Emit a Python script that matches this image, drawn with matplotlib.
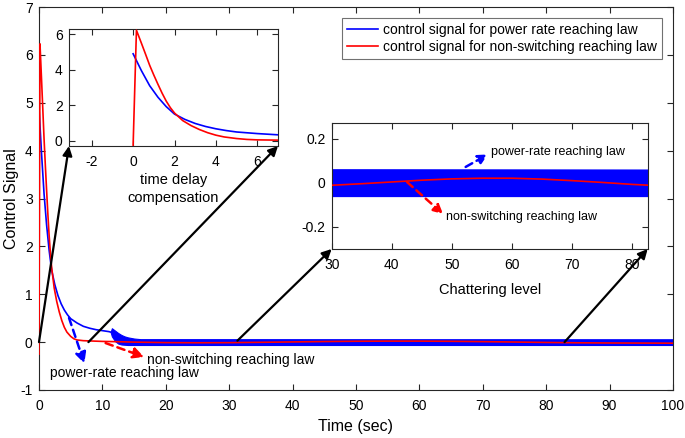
import matplotlib
matplotlib.use("Agg")
import matplotlib.pyplot as plt

plt.rcParams['font.family'] = ['Liberation Sans', 'DejaVu Sans']
plt.rcParams['axes.unicode_minus'] = False

# blue: power rate reaching law (smooth part, before chattering starts)
t_blue = [0, 0.4, 0.8, 1.2, 1.6, 2.0, 2.5, 3.0, 3.5, 4.0, 4.5, 5.0, 6.0, 7.0, 8, 9, 10, 11, 11.3]
u_blue = [4.9, 3.95, 3.1, 2.45, 1.92, 1.5, 1.2, 0.97, 0.8, 0.67, 0.57, 0.49, 0.4, 0.33,
          0.29, 0.26, 0.24, 0.22, 0.21]

# blue chattering band envelope
t_band = [11.3, 11.5, 12, 12.5, 13, 13.5, 14, 15, 16, 100]
band_hi = [0.21, 0.29, 0.24, 0.19, 0.15, 0.12, 0.10, 0.075, 0.062, 0.06]
band_lo = [0.21, 0.12, 0.02, -0.03, -0.05, -0.055, -0.06, -0.06, -0.06, -0.06]

# red: non-switching reaching law
t_red = [0, 0.16, 0.4, 0.6, 0.8, 1.0, 1.2, 1.4, 1.6, 1.8, 2.0, 2.4, 2.8, 3.2, 3.6, 4.0,
         4.4, 5.0, 5.5, 6, 7, 8, 10, 12, 15, 20, 25, 30, 35, 40, 45, 50, 55, 60, 65,
         70, 75, 80, 85, 90, 100]
u_red = [-0.25, 6.23, 5.5, 4.88, 4.25, 3.7, 3.18, 2.68, 2.23, 1.86, 1.56, 1.13, 0.85,
         0.63, 0.45, 0.31, 0.21, 0.12, 0.07, 0.045, 0.03, 0.025, 0.015, 0.01, 0.0,
         -0.01, -0.013, -0.011, -0.004, 0.004, 0.012, 0.018, 0.021, 0.021, 0.017,
         0.01, 0.002, -0.007, -0.014, -0.018, -0.022]

fig = plt.figure(figsize=(6.85, 4.38), dpi=100)
ax = fig.add_axes([0.0569, 0.1096, 0.9255, 0.8744])


def draw_signals(a):
    a.plot(t_blue, u_blue, color='b', lw=1.2, zorder=2)
    a.fill_between(t_band, band_lo, band_hi, color='b', lw=0.8, zorder=2)
    a.plot(t_red, u_red, color='r', lw=1.2, zorder=3)


def style(a):
    a.tick_params(direction='in', top=True, right=True, labelsize=10, length=4, colors='0.15')
    a.tick_params(axis='x', pad=6.5)
    a.tick_params(axis='y', pad=4.5)
    for s in a.spines.values():
        s.set_color('0.15')
        s.set_linewidth(0.8)
    for lab in a.get_xticklabels() + a.get_yticklabels():
        lab.set_color('k')


draw_signals(ax)
ax.plot([], [], color='b', lw=1.2, label='control signal for power rate reaching law')
ax.plot([], [], color='r', lw=1.2, label='control signal for non-switching reaching law')
ax.set_xlim(0, 100)
ax.set_ylim(-1, 7)
ax.set_xticks(range(0, 101, 10))
ax.set_yticks(range(-1, 8))
style(ax)
ax.set_xlabel('Time (sec)', fontsize=11.5, labelpad=4)
ax.set_ylabel('Control Signal', fontsize=11.5, labelpad=1)

leg = fig.legend(loc='upper right', bbox_to_anchor=(0.9664, 0.9589), fontsize=10,
                 frameon=True, fancybox=False, edgecolor='0.3', handlelength=2.2,
                 borderaxespad=0, labelspacing=0.25, borderpad=0.35, handletextpad=0.4)
leg.get_frame().set_linewidth(0.8)

# dashed pointers in main axes
ax.annotate('', xy=(7.3, -0.5), xytext=(4.6, 0.56),
            arrowprops=dict(arrowstyle='-|>', color='b', lw=1.8, ls=(0, (3, 2)), mutation_scale=16))
ax.text(1.8, -0.64, 'power-rate reaching law', fontsize=10, va='center', ha='left')
ax.annotate('', xy=(17, -0.33), xytext=(10.1, 0.0),
            arrowprops=dict(arrowstyle='-|>', color='r', lw=1.8, ls=(0, (3, 2)), mutation_scale=16))
ax.text(17, -0.37, 'non-switching reaching law', fontsize=10, va='center', ha='left')

# inset: time delay compensation
ins1 = fig.add_axes([0.1007, 0.6667, 0.3051, 0.2671])
draw_signals(ins1)
ins1.set_xlim(-3.1, 7)
ins1.set_ylim(-0.3, 6.3)
ins1.set_xticks([-2, 0, 2, 4, 6])
ins1.set_yticks([0, 2, 4, 6])
style(ins1)
ins1.set_xlabel('time delay\ncompensation', fontsize=10.5, labelpad=3, linespacing=1.35)

# inset: chattering level
ins2 = fig.add_axes([0.4842, 0.4315, 0.4613, 0.287])
draw_signals(ins2)
ins2.set_xlim(30, 82.6)
ins2.set_ylim(-0.3, 0.27)
ins2.set_xticks(range(30, 81, 10))
ins2.set_yticks([-0.2, 0, 0.2])
ins2.set_yticklabels(['-0.2', '0', '0.2'])
style(ins2)
ins2.set_xlabel('Chattering level', fontsize=10.5, labelpad=8)
ins2.annotate('', xy=(56.4, 0.135), xytext=(51.9, 0.066),
              arrowprops=dict(arrowstyle='-|>', color='b', lw=1.8, ls=(0, (3, 2)), mutation_scale=14))
ins2.text(56.5, 0.14, 'power-rate reaching law', fontsize=9, va='center', ha='left')
ins2.annotate('', xy=(48.9, -0.15), xytext=(42.2, 0.012),
              arrowprops=dict(arrowstyle='-|>', color='r', lw=1.8, ls=(0, (3, 2)), mutation_scale=14))
ins2.text(49, -0.155, 'non-switching reaching law', fontsize=9, va='center', ha='left')

# black zoom arrows from main plot to inset corners
zoom_links = [((0, 0), ins1, (0, 0)), ((7.8, 0), ins1, (1, 0)),
              ((31.3, 0.03), ins2, (0, 0)), ((82.9, 0), ins2, (1, 0))]
for src, inset, corner in zoom_links:
    ax.annotate('', xy=corner, xycoords=inset.transAxes, xytext=src, textcoords='data',
                arrowprops=dict(arrowstyle='-|>', color='k', lw=1.6, mutation_scale=14,
                                shrinkA=0, shrinkB=0), zorder=5, annotation_clip=False)

fig.savefig('out.png', dpi=100)
